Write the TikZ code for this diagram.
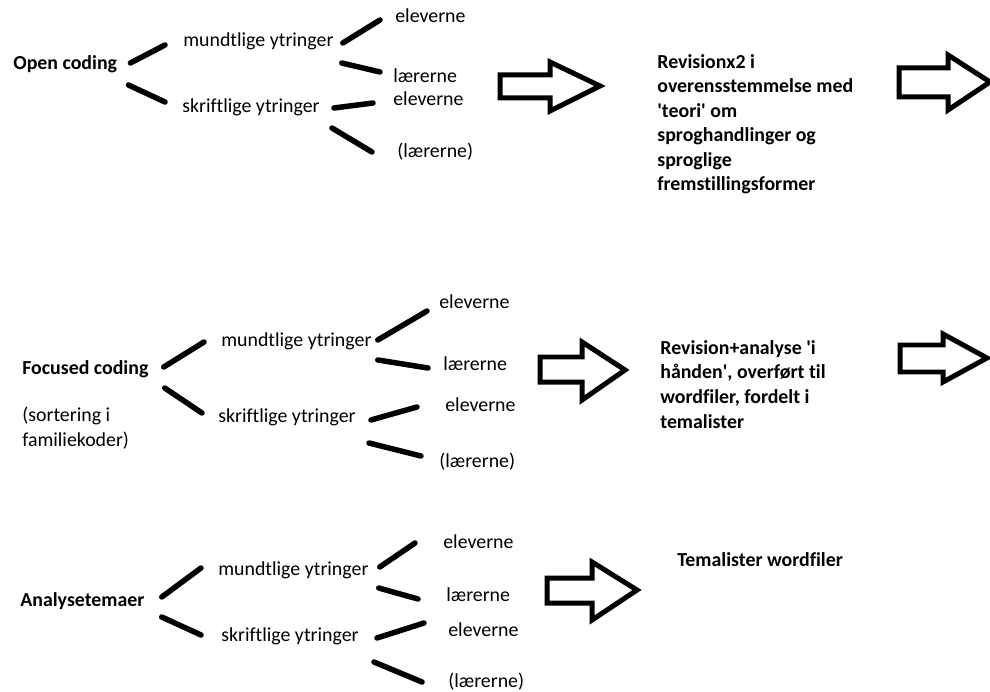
\documentclass[tikz,border=0pt]{standalone}
\usepackage{fontspec}
\setmainfont{Carlito}[Ligatures={NoCommon}]
\usetikzlibrary{positioning,calc}
\newcommand{\txtsize}{\fontsize{11.3}{14}\selectfont}
\tikzset{
    topic/.style={anchor=west, inner sep=0pt, font=\txtsize\bfseries, text height=0.7em, text depth=0.2em},
    entry/.style={anchor=west, inner sep=0pt, font=\txtsize, text height=0.7em, text depth=0.2em},
    note/.style={anchor=base west, inner sep=0pt, align=left, font=\txtsize},
    boldnote/.style={note, font=\txtsize\bfseries},
    branch/.style={draw, line width=0.11cm, line cap=round},
    fatarrow/.style={draw, line width=0.1cm, line join=miter}
}
\begin{document}
\begin{tikzpicture}[x=0.02cm, y=-0.02cm]
    \useasboundingbox (0,0) rectangle (990,692);

    \node [topic] (open) at (13,65) {Open coding};
    \node [entry] (mundA) at (183,42) {mundtlige ytringer};
    \node [entry] (skriftA) at (182,108) {skriftlige ytringer};
    \node [entry] (elevA) at (395,18) {eleverne};
    \node [entry] (laerA) at (393,78) {lærerne};
    \node [entry] (elevAA) at (393,101) {eleverne};
    \node [entry] (laerAA) at (397,153) {(lærerne)};
    \node [boldnote] (revA) at (657,191) {Revisionx2 i\\overensstemmelse med\\\textquotesingle teori\textquotesingle{} om\\sproghandlinger og\\sproglige\\fremstillingsformer};

    \node [topic] (focus) at (22,370) {Focused coding};
    \node [note] (sort) at (22,446) {(sortering i\\familiekoder)};
    \node [entry] (mundB) at (221,342) {mundtlige ytringer};
    \node [entry] (skriftB) at (218,418) {skriftlige ytringer};
    \node [entry] (elevB) at (439,304) {eleverne};
    \node [entry] (laerB) at (443,366) {lærerne};
    \node [entry] (elevBB) at (445,407) {eleverne};
    \node [entry] (laerBB) at (439,463) {(lærerne)};
    \node [boldnote] (revB) at (660,428) {Revision+analyse \textquotesingle i\\hånden\textquotesingle, overført til\\wordfiler, fordelt i\\temalister};

    \node [topic] (anal) at (20,602) {Analysetemaer};
    \node [entry] (mundC) at (218,571) {mundtlige ytringer};
    \node [entry] (skriftC) at (221,637) {skriftlige ytringer};
    \node [entry] (elevC) at (443,544) {eleverne};
    \node [entry] (laerC) at (446,597) {lærerne};
    \node [entry] (elevCC) at (448,632) {eleverne};
    \node [entry] (laerCC) at (448,683) {(lærerne)};
    \node [topic] (tema) at (677,562) {Temalister wordfiler};

    \path [branch] ([shift={(13,-2)}]open.east) -- ([shift={(-18,3)}]mundA.west);
    \path [branch] ([shift={(11,20)}]open.east) -- ([shift={(-17,-6)}]skriftA.west);
    \path [branch] ([shift={(9,1)}]mundA.east) -- ([shift={(-15,2)}]elevA.west);
    \path [branch] ([shift={(8,21)}]mundA.east) -- ([shift={(-13,-6)}]laerA.west);
    \path [branch] ([shift={(14,0)}]skriftA.east) -- ([shift={(-20,2)}]elevAA.west);
    \path [branch] ([shift={(12,20)}]skriftA.east) -- ([shift={(-25,-1)}]laerAA.west);

    \path [branch] ([shift={(15,-3)}]focus.east) -- ([shift={(-17,0)}]mundB.west);
    \path [branch] ([shift={(16,18)}]focus.east) -- ([shift={(-16,-5)}]skriftB.west);
    \path [branch] ([shift={(6,-2)}]mundB.east) -- ([shift={(-12,7)}]elevB.west);
    \path [branch] ([shift={(6,18)}]mundB.east) -- ([shift={(-15,2)}]laerB.west);
    \path [branch] ([shift={(15,2)}]skriftB.east) -- ([shift={(-28,0)}]elevBB.west);
    \path [branch] ([shift={(13,25)}]skriftB.east) -- ([shift={(-18,-7)}]laerBB.west);

    \path [branch] ([shift={(17,-5)}]anal.east) -- ([shift={(-17,-3)}]mundC.west);
    \path [branch] ([shift={(17,15)}]anal.east) -- ([shift={(-20,-2)}]skriftC.west);
    \path [branch] ([shift={(11,-4)}]mundC.east) -- ([shift={(-28,-1)}]elevC.west);
    \path [branch] ([shift={(10,17)}]mundC.east) -- ([shift={(-28,2)}]laerC.west);
    \path [branch] ([shift={(18,1)}]skriftC.east) -- ([shift={(-24,-9)}]elevCC.west);
    \path [branch] ([shift={(15,25)}]skriftC.east) -- ([shift={(-26,-1)}]laerCC.west);

    \draw [fatarrow] (500,75) -- (550,75) -- (550,62) -- (600,86) -- (550,111) -- (550,98) -- (500,98) -- cycle;
    \draw [fatarrow] (899,68) -- (948,68) -- (948,55) -- (990,82) -- (948,110) -- (948,97) -- (899,97) -- cycle;
    \draw [fatarrow] (540,357) -- (582,357) -- (582,342) -- (625,370) -- (582,400) -- (582,382) -- (540,382) -- cycle;
    \draw [fatarrow] (900,345) -- (943,345) -- (943,334) -- (987,358) -- (943,382) -- (943,372) -- (900,372) -- cycle;
    \draw [fatarrow] (547,578) -- (592,578) -- (592,562) -- (637,590) -- (592,620) -- (592,603) -- (547,603) -- cycle;
\end{tikzpicture}
\end{document}
